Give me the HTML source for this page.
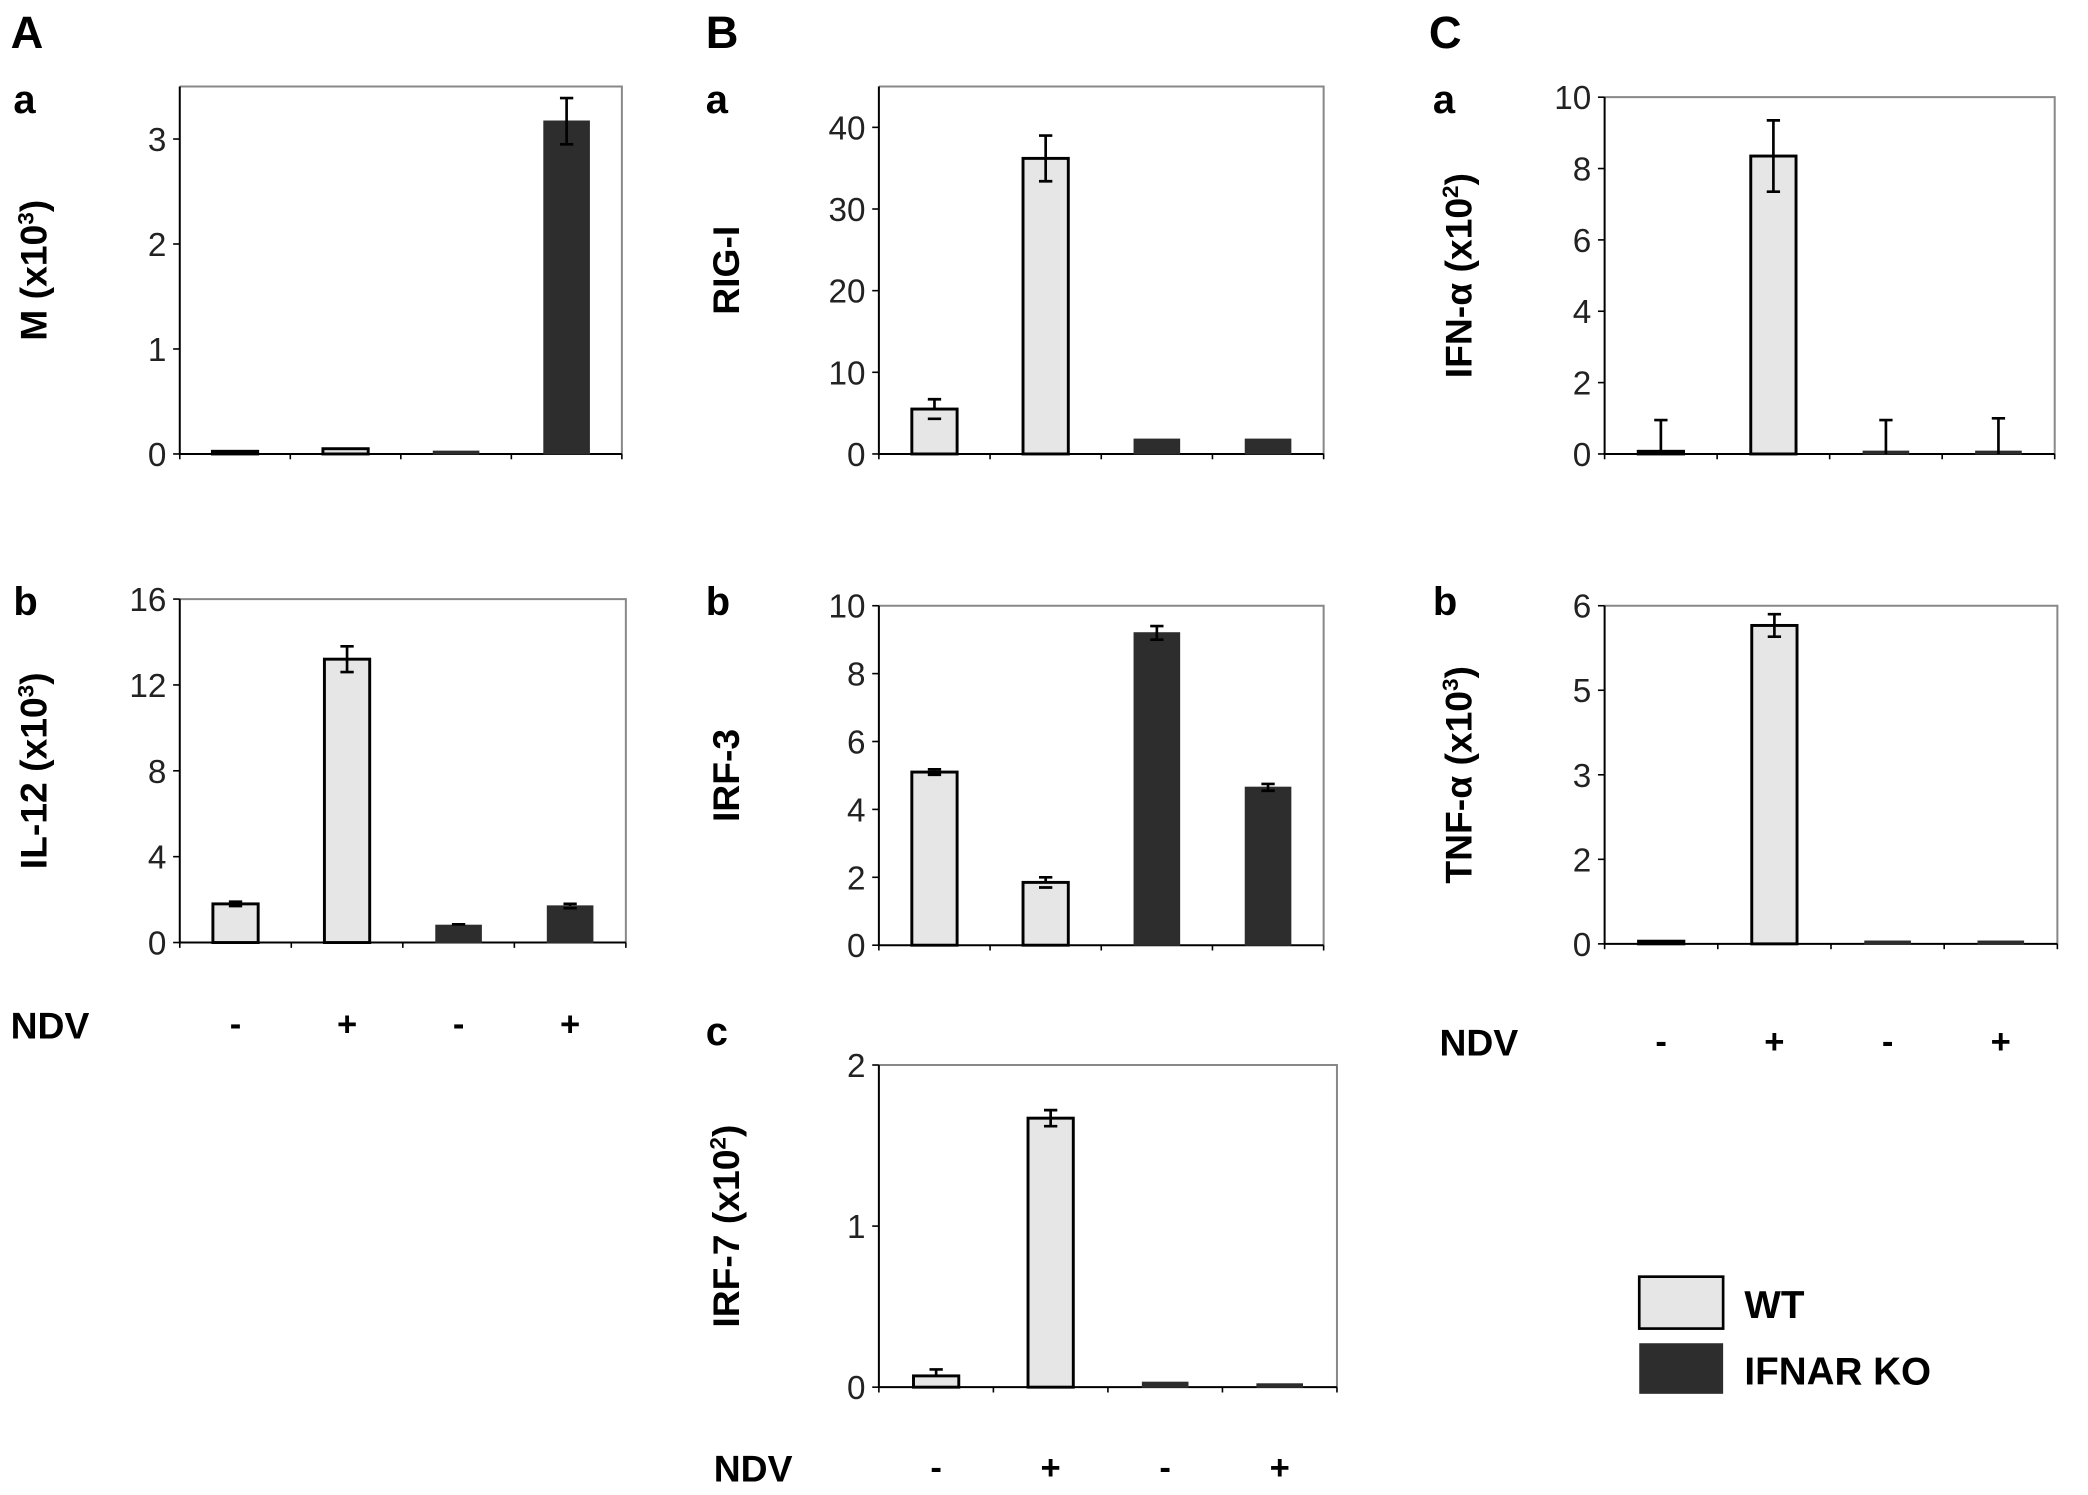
<!DOCTYPE html>
<html><head><meta charset="utf-8">
<style>
html,body{margin:0;padding:0;background:#fff;}
svg{display:block;font-family:"Liberation Sans",sans-serif;}
</style></head>
<body>
<svg id="fig" width="2088" height="1495" viewBox="0 0 1568 1123" preserveAspectRatio="none" xmlns="http://www.w3.org/2000/svg"></svg>
<script>
const NS="http://www.w3.org/2000/svg";
const svg=document.getElementById('fig');
const categories=["WT -","WT +","KO -","KO +"];
const ndvLabels=["-","+","-","+"];
const isDark=[false,false,true,true];
const mValues=[0.01,0.05,0.01,3.17];
const mErr=[0,0,0,0.22];
const il12Values=[1.8,13.2,0.8,1.7];
const il12Err=[0.1,0.6,0.05,0.1];
const rigValues=[5.5,36.2,1.8,1.8];
const rigErr=[1.2,2.8,0,0];
const irf3Values=[5.1,1.85,9.2,4.65];
const irf3Err=[0.08,0.15,0.2,0.1];
const irf7Values=[0.07,1.67,0.03,0.02];
const irf7Err=[0.04,0.05,0,0];
const ifnValues=[0,8.35,0,0];
const ifnErr=[0.95,1.0,0.95,1.0];
const tnfValues=[0,5.65,0,0];
const tnfErr=[0,0.2,0,0];
const mTicks=[0,1,2,3];
const il12Ticks=[0,4,8,12,16];
const rigTicks=[0,10,20,30,40];
const irf3Ticks=[0,2,4,6,8,10];
const irf7Ticks=[0,1,2];
const ifnTicks=[0,2,4,6,8,10];
const tnfTicks=[0,1.5,3,4.5,6];
const tnfTickLabels=["0","2","3","5","6"];

function el(tag,attrs,parent){const e=document.createElementNS(NS,tag);for(const k in attrs)e.setAttribute(k,attrs[k]);(parent||svg).appendChild(e);return e;}
function txt(x,y,s,attrs,parent){const t=el('text',Object.assign({x:x,y:y},attrs||{}),parent);t.textContent=s;return t;}

function panel(name,x0,x1,y0,y1,ymax,ticks,tickLabels,vals,errs,title,titleX,sup){
  const g=el('g',{});
  
  
  const ys=v=>y1-(v/ymax)*(y1-y0);
  const bw=(x1-x0)/categories.length;
  const xs=i=>x0+bw*(i+0.5);
  const frame=el('path',{d:`M${x0} ${y0}H${x1}V${y1}`,fill:'none',stroke:'#888','stroke-width':1.5},g);
  
  
  const ax=el('path',{d:`M${x0} ${y0}V${y1}H${x1}`,fill:'none',stroke:'#000','stroke-width':1.5},g);
  
  
  for(let i=0;i<=categories.length;i++){el('line',{x1:x0+bw*i,x2:x0+bw*i,y1:y1,y2:y1+4,stroke:'#000','stroke-width':1.2},g);}
  ticks.forEach((t,i)=>{
    el('line',{x1:x0-5,x2:x0,y1:ys(t),y2:ys(t),stroke:'#000','stroke-width':1.2},g);
    const lb=txt(x0-10,ys(t)+9,tickLabels?tickLabels[i]:String(t),{'text-anchor':'end','font-size':25,fill:'#222'},g);
    
    
  });
  vals.forEach((v,i)=>{
    const w=34, h=Math.max(y1-ys(v),2);
    const r=el('rect',{x:xs(i)-w/2,y:y1-h,width:w,height:h,fill:isDark[i]?'#2d2d2d':'#e6e6e6',stroke:isDark[i]?'#2d2d2d':'#000','stroke-width':isDark[i]?1:2.2},g);
    
    
    if(errs[i]>0){
      const top=ys(v+errs[i]), bot=v>0.2*ymax?ys(v-errs[i]):ys(v);
      el('path',{d:`M${xs(i)} ${bot}V${top}M${xs(i)-5} ${top}H${xs(i)+5}`+(v>0.05*ymax?`M${xs(i)-5} ${ys(v-errs[i])}H${xs(i)+5}`:''),stroke:'#000','stroke-width':2,fill:'none'},g);
    }
  });
  const cy=(y0+y1)/2;
  const tt=el('text',{x:titleX,y:cy,'text-anchor':'middle','font-size':28,'font-weight':'bold',transform:`rotate(-90 ${titleX} ${cy})`},g);
  
  
  tt.appendChild(document.createTextNode(title));
  if(sup){
    const s=el('tspan',{'font-size':17,dy:-10},tt);s.textContent=sup;
    const c=el('tspan',{dy:10},tt);c.textContent=')';
  }
  return xs;
}
function ndvRow(xs,y,labelX){
  const l=txt(labelX,y+10,'NDV',{'font-size':28,'font-weight':'bold'});
  
  
  ndvLabels.forEach((s,i)=>{const t=txt(xs(i),y+8,s,{'text-anchor':'middle','font-size':26,'font-weight':'bold'});
    
    });
}
function letter(x,y,s,size){const t=txt(x,y,s,{'font-size':size,'font-weight':'bold'});
  
  }

letter(8,36,'A',34);letter(10,85,'a',30);letter(10,462,'b',30);
letter(530,36,'B',34);letter(530,85,'a',30);letter(530,462,'b',30);letter(530,785,'c',30);
letter(1073,36,'C',34);letter(1076,85,'a',30);letter(1076,462,'b',30);

panel('m',135,467,65,341,3.5,mTicks,null,mValues,mErr,'M (x10','35','3');
const xa=panel('il12',135,470,450,708,16,il12Ticks,null,il12Values,il12Err,'IL-12 (x10','35','3');
ndvRow(xa,770,8);
panel('rig',660,994,65,341,45,rigTicks,null,rigValues,rigErr,'RIG-I',555,null);
panel('irf3',660,994,455,710,10,irf3Ticks,null,irf3Values,irf3Err,'IRF-3',555,null);
const xb=panel('irf7',660,1004,800,1042,2,irf7Ticks,null,irf7Values,irf7Err,'IRF-7 (x10',555,'2');
ndvRow(xb,1103,536);
panel('ifn',1205,1543,73,341,10,ifnTicks,null,ifnValues,ifnErr,'IFN-\u03b1 (x10',1105,'2');
const xc=panel('tnf',1205,1545,455,709,6,tnfTicks,tnfTickLabels,tnfValues,tnfErr,'TNF-\u03b1 (x10',1105,'3');
ndvRow(xc,783,1081);

const lg=el('g',{});


const l1=el('rect',{x:1231,y:959,width:63,height:39,fill:'#e6e6e6',stroke:'#000','stroke-width':2},lg);


const t1=txt(1310,990,'WT',{'font-size':29,'font-weight':'bold'},lg);


const l2=el('rect',{x:1231,y:1009,width:63,height:38,fill:'#2d2d2d'},lg);


const t2=txt(1310,1040,'IFNAR KO',{'font-size':29,'font-weight':'bold'},lg);


</script>
</body></html>
